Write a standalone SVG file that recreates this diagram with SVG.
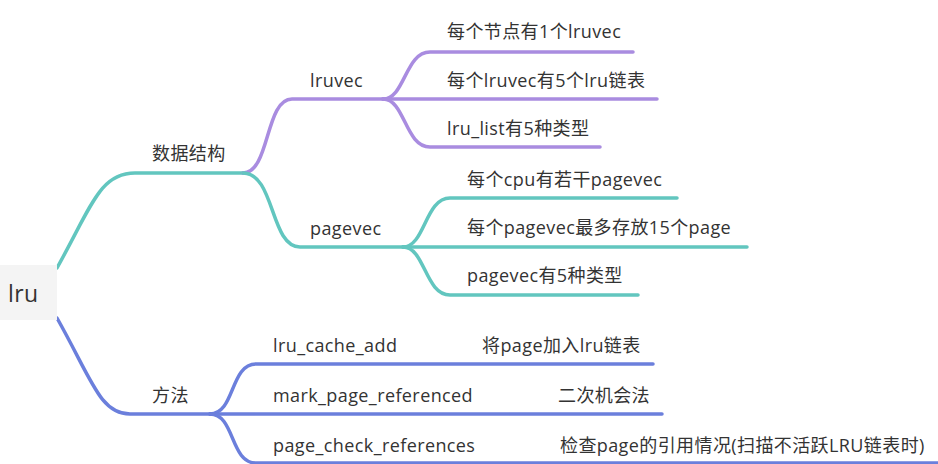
<svg xmlns="http://www.w3.org/2000/svg" width="938" height="464" viewBox="0 0 938 464">
<style>
text{font-family:"Open Sans","Noto Sans CJK SC",sans-serif;font-size:18px;fill:#333;letter-spacing:0.4px}
.c{fill:none;stroke-width:3.5;stroke-linecap:round}
.teal{stroke:#62c6bf}
.purple{stroke:#a98ce0}
.blue{stroke:#6b7fdc}
</style>
<rect width="938" height="464" fill="#fff"/>
<g id="connectors">
<path class="c teal" d="M57,268 C92,205 100,173 135,173 H243"/>
<path class="c purple" d="M243,173 C270,173 265,99 292,99 H383"/>
<path class="c purple" d="M383,99 C405,99 405,52 430,52 H633"/>
<path class="c purple" d="M383,99 H657"/>
<path class="c purple" d="M383,99 C405,99 405,147 430,147 H600"/>
<path class="c teal" d="M243,173 C275,173 270,247 300,247 H403"/>
<path class="c teal" d="M403,247 C425,247 425,198 450,198 H677"/>
<path class="c teal" d="M403,247 H747"/>
<path class="c teal" d="M403,247 C425,247 425,295 450,295 H638"/>
<path class="c blue" d="M57,318 C92,380 100,414 130,414 H210"/>
<path class="c blue" d="M210,414 C235,414 230,364 256,364 H653"/>
<path class="c blue" d="M210,414 H662"/>
<path class="c blue" d="M210,414 C235,414 230,463 256,463 H940"/>
</g>
<g id="root"><rect x="0" y="265" width="57" height="55" fill="#f4f4f4"/><text x="8" y="302" style="font-size:23px">lru</text></g>
<g id="n-data"><text x="152" y="160">数据结构</text></g>
<g id="n-lruvec"><text x="310" y="87">lruvec</text></g>
<g id="n-l1"><text x="447" y="38">每个节点有1个lruvec</text></g>
<g id="n-l2"><text x="447" y="87">每个lruvec有5个lru链表</text></g>
<g id="n-l3"><text x="447" y="135">lru_list有5种类型</text></g>
<g id="n-pagevec"><text x="310" y="235">pagevec</text></g>
<g id="n-p1"><text x="467" y="186">每个cpu有若干pagevec</text></g>
<g id="n-p2"><text x="467" y="234">每个pagevec最多存放15个page</text></g>
<g id="n-p3"><text x="467" y="282">pagevec有5种类型</text></g>
<g id="n-method"><text x="152" y="402">方法</text></g>
<g id="n-m1"><text x="273" y="352">lru_cache_add</text></g>
<g id="n-m1d"><text x="482" y="352">将page加入lru链表</text></g>
<g id="n-m2"><text x="273" y="402">mark_page_referenced</text></g>
<g id="n-m2d"><text x="558" y="402">二次机会法</text></g>
<g id="n-m3"><text x="273" y="452">page_check_references</text></g>
<g id="n-m3d"><text x="560" y="452">检查page的引用情况(扫描不活跃LRU链表时)</text></g>
</svg>
